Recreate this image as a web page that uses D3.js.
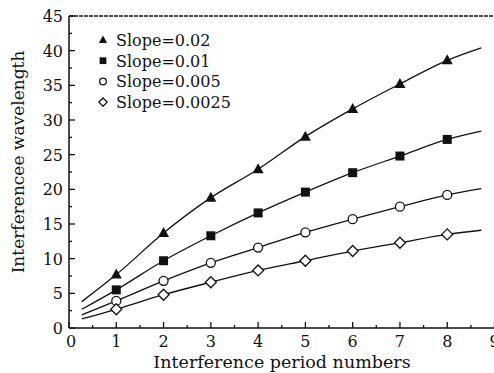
<!DOCTYPE html>
<html>
<head>
<meta charset="utf-8">
<script src="https://cdn.jsdelivr.net/npm/d3@7"></script>
<style>
  html, body { margin: 0; padding: 0; background: #fff; }
  svg { display: block; }
  text { font-family: "DejaVu Serif", "Liberation Serif", serif; fill: #111; }
</style>
</head>
<body>
<svg id="chart" width="494" height="373"></svg>
<script>
// Interference period numbers (measured points)
const periods = [1, 2, 3, 4, 5, 6, 7, 8];
// Fitted curve extends slightly beyond the measured range
const curveStart = 0.27;
const curveEnd = 8.72;

const seriesNames = ["Slope=0.02", "Slope=0.01", "Slope=0.005", "Slope=0.0025"];
const seriesSymbols = ["triangle", "square", "circle", "diamond"];

// Measured interferencee wavelength at each period
const slope002 = [7.7, 13.7, 18.8, 22.9, 27.6, 31.6, 35.2, 38.6];
const slope001 = [5.5, 9.7, 13.3, 16.6, 19.6, 22.4, 24.8, 27.2];
const slope0005 = [3.9, 6.8, 9.4, 11.6, 13.8, 15.7, 17.5, 19.2];
const slope00025 = [2.7, 4.8, 6.6, 8.3, 9.7, 11.1, 12.3, 13.5];

// Fitted curve values at the start and end of the drawn line
const fitStart = [3.8, 2.7, 1.9, 1.3];
const fitEnd = [40.4, 28.4, 20.1, 14.1];

const xTicks = [0, 1, 2, 3, 4, 5, 6, 7, 8, 9];
const yTicks = [0, 5, 10, 15, 20, 25, 30, 35, 40, 45];

const seriesValues = [slope002, slope001, slope0005, slope00025];

const svg = d3.select("#chart");
const x = d3.scaleLinear().domain([0, 9]).range([69, 494.5]);
const y = d3.scaleLinear().domain([0, 45]).range([328, 16]);

const ink = "#111";

// Frame: left axis, bottom axis, top border
svg.append("line").attr("x1", x(0)).attr("x2", x(0)).attr("y1", y(0)).attr("y2", y(45))
  .attr("stroke", ink).attr("stroke-width", 1.5);
svg.append("line").attr("x1", x(0)).attr("x2", 494).attr("y1", y(0)).attr("y2", y(0))
  .attr("stroke", ink).attr("stroke-width", 1.5);
svg.append("line").attr("x1", x(0)).attr("x2", 494).attr("y1", y(45)).attr("y2", y(45))
  .attr("stroke", ink).attr("stroke-width", 1.6).attr("stroke-dasharray", "4,1");

// Inward ticks on the x axis: majors at integers, minors at halves
d3.range(0, 9.01, 0.5).forEach(v => {
  const major = Math.abs(v - Math.round(v)) < 1e-6;
  svg.append("line")
    .attr("x1", x(v)).attr("x2", x(v))
    .attr("y1", y(0)).attr("y2", y(0) - (major ? 6 : 3))
    .attr("stroke", ink).attr("stroke-width", 1.3);
});
// Inward ticks on the y axis: majors at fives, minors at 2.5
d3.range(0, 45.01, 2.5).forEach(v => {
  const major = Math.abs(v / 5 - Math.round(v / 5)) < 1e-6;
  svg.append("line")
    .attr("x1", x(0)).attr("x2", x(0) + (major ? 6 : 3))
    .attr("y1", y(v)).attr("y2", y(v))
    .attr("stroke", ink).attr("stroke-width", 1.3);
});

// Tick labels
svg.append("g").selectAll("text").data(xTicks).join("text")
  .attr("x", d => x(d) + (d === 0 ? 2 : 0)).attr("y", 347)
  .attr("text-anchor", "middle").attr("font-size", 16)
  .text(d => d);
svg.append("g").selectAll("text").data(yTicks).join("text")
  .attr("x", 63).attr("y", d => y(d) + 6)
  .attr("text-anchor", "end").attr("font-size", 16)
  .text(d => d);

// Axis titles
svg.append("text").attr("x", 282).attr("y", 368)
  .attr("text-anchor", "middle").attr("font-size", 17.5)
  .text("Interference period numbers");
svg.append("text")
  .attr("transform", "translate(24, 162) rotate(-90)")
  .attr("text-anchor", "middle").attr("font-size", 17)
  .text("Interferencee wavelength");

// Fitted curves
const line = d3.line().x(d => x(d[0])).y(d => y(d[1])).curve(d3.curveMonotoneX);
seriesValues.forEach((vals, i) => {
  const pts = [[curveStart, fitStart[i]]]
    .concat(periods.map((p, j) => [p, vals[j]]))
    .concat([[curveEnd, fitEnd[i]]]);
  svg.append("path").attr("d", line(pts))
    .attr("fill", "none").attr("stroke", ink).attr("stroke-width", 1.3);
});

// Marker drawing
function marker(g, type, cx, cy, s) {
  if (type === "triangle") {
    g.append("path").attr("d", `M${cx},${cy - 6 * s} L${cx + 5.5 * s},${cy + 4 * s} L${cx - 5.5 * s},${cy + 4 * s} Z`)
      .attr("fill", ink);
  } else if (type === "square") {
    g.append("rect").attr("x", cx - 4.5 * s).attr("y", cy - 4.5 * s)
      .attr("width", 9 * s).attr("height", 9 * s).attr("fill", ink);
  } else if (type === "circle") {
    g.append("circle").attr("cx", cx).attr("cy", cy).attr("r", 4.5 * s)
      .attr("fill", "#fff").attr("stroke", ink).attr("stroke-width", 1.3);
  } else {
    g.append("path").attr("d", `M${cx},${cy - 5.5 * s} L${cx + 5.5 * s},${cy} L${cx},${cy + 5.5 * s} L${cx - 5.5 * s},${cy} Z`)
      .attr("fill", "#fff").attr("stroke", ink).attr("stroke-width", 1.3);
  }
}

const markers = svg.append("g");
seriesValues.forEach((vals, i) => {
  periods.forEach((p, j) => marker(markers, seriesSymbols[i], x(p), y(vals[j]), 1));
});

// Legend
const legend = svg.append("g");
seriesNames.forEach((name, i) => {
  const ly = 40 + i * 20.7;
  marker(legend, seriesSymbols[i], 103, ly, 0.75);
  legend.append("text").attr("x", 116).attr("y", ly + 6).attr("font-size", 16).text(name);
});
</script>
</body>
</html>
